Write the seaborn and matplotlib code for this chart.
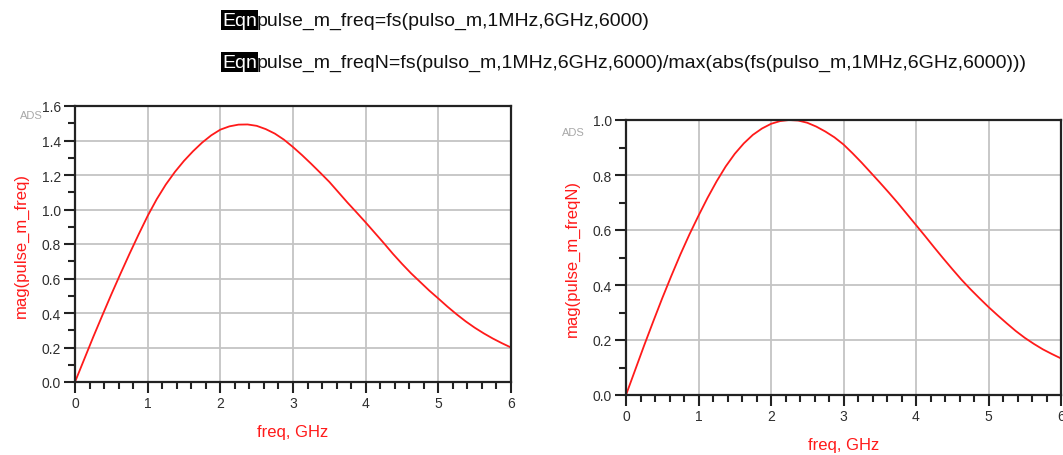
import numpy as np
import pandas as pd
import matplotlib
matplotlib.use("Agg")
import matplotlib.pyplot as plt
from matplotlib.ticker import MultipleLocator
import seaborn as sns

# ---- data ----
freq_ghz = [0.0, 0.125, 0.25, 0.375, 0.5, 0.625, 0.75, 0.875, 1.0, 1.125, 1.25, 1.375,
            1.5, 1.625, 1.75, 1.875, 2.0, 2.125, 2.25, 2.375, 2.5, 2.625, 2.75, 2.875,
            3.0, 3.125, 3.25, 3.375, 3.5, 3.625, 3.75, 3.875, 4.0, 4.125, 4.25, 4.375,
            4.5, 4.625, 4.75, 4.875, 5.0, 5.125, 5.25, 5.375, 5.5, 5.625, 5.75, 5.875, 6.0]
mag_freq = [0.0, 0.13, 0.26, 0.385, 0.508, 0.627, 0.743, 0.855, 0.963, 1.06, 1.145, 1.218,
            1.282, 1.338, 1.388, 1.43, 1.463, 1.482, 1.492, 1.493, 1.485, 1.466, 1.44, 1.405,
            1.362, 1.315, 1.265, 1.213, 1.16, 1.10, 1.04, 0.983, 0.925, 0.865, 0.805, 0.743,
            0.685, 0.63, 0.58, 0.53, 0.484, 0.437, 0.393, 0.352, 0.315, 0.282, 0.252, 0.225, 0.20]
mag_freqN = [0.0, 0.09, 0.18, 0.267, 0.352, 0.433, 0.511, 0.584, 0.652, 0.717, 0.777, 0.831,
             0.877, 0.915, 0.946, 0.969, 0.986, 0.996, 1.0, 0.998, 0.99, 0.976, 0.958, 0.937,
             0.911, 0.879, 0.845, 0.809, 0.773, 0.736, 0.698, 0.658, 0.618, 0.578, 0.537, 0.497,
             0.458, 0.42, 0.385, 0.352, 0.32, 0.29, 0.261, 0.233, 0.208, 0.186, 0.166, 0.149, 0.133]
xticks = [0, 1, 2, 3, 4, 5, 6]
yticks_left = [0.0, 0.2, 0.4, 0.6, 0.8, 1.0, 1.2, 1.4, 1.6]
yticks_right = [0.0, 0.2, 0.4, 0.6, 0.8, 1.0]
eq1 = "pulse_m_freq=fs(pulso_m,1MHz,6GHz,6000)"
eq2 = "pulse_m_freqN=fs(pulso_m,1MHz,6GHz,6000)/max(abs(fs(pulso_m,1MHz,6GHz,6000)))"

sns.set_style("white")
FONT = ['Liberation Sans Narrow', 'Liberation Sans', 'DejaVu Sans']
plt.rcParams['font.family'] = FONT

W, H = 1063, 456
fig = plt.figure(figsize=(W / 100, H / 100), dpi=100)


def px_axes(x0, y0, x1, y1):
    return fig.add_axes([x0 / W, 1 - y1 / H, (x1 - x0) / W, (y1 - y0) / H])


df1 = pd.DataFrame({"freq": freq_ghz, "mag": mag_freq})
df2 = pd.DataFrame({"freq": freq_ghz, "mag": mag_freqN})

ax1 = px_axes(75, 107, 511, 383)
ax2 = px_axes(626, 121, 1061, 396)

RED = "#ff1a1a"
TICKC = "#2e2e2e"


def style(ax, df, yticks, ylabel, ymax):
    sns.lineplot(data=df, x="freq", y="mag", ax=ax, color=RED, linewidth=1.3)
    ax.set_xlim(0, 6)
    ax.set_ylim(0, ymax)
    ax.set_xticks(xticks)
    ax.set_xticklabels([str(t) for t in xticks])
    ax.set_yticks(yticks)
    ax.set_yticklabels([f"{t:.1f}" for t in yticks])
    ax.xaxis.set_minor_locator(MultipleLocator(0.2))
    ax.yaxis.set_minor_locator(MultipleLocator(0.1))
    ax.grid(True, which="major", color="#c4c4c4", linewidth=1.3)
    ax.set_axisbelow(True)
    for s in ax.spines.values():
        s.set_color("#222222")
        s.set_linewidth(1.6)
        s.set_visible(True)
    ax.tick_params(axis="both", which="major", direction="out", length=8, width=1.5,
                   color="#222222", labelcolor=TICKC, labelsize=10, pad=2)
    ax.tick_params(axis="both", which="minor", direction="out", length=5, width=1.5,
                   color="#222222")
    ax.tick_params(axis="x", which="both", bottom=True)
    ax.tick_params(axis="y", which="both", left=True)
    ax.set_xlabel("freq, GHz", color=RED, fontsize=12, labelpad=10)
    ax.set_ylabel(ylabel, color=RED, fontsize=12, labelpad=9)


style(ax1, df1, yticks_left, "mag(pulse_m_freq)", 1.6)
style(ax2, df2, yticks_right, "mag(pulse_m_freqN)", 1.0)

fig.text(20 / W, 1 - 116 / H, "ADS", color="#a8a8a8", fontsize=8, va="center", ha="left")
fig.text(562 / W, 1 - 133 / H, "ADS", color="#a8a8a8", fontsize=8, va="center", ha="left")

# equations at top
for y, txt in [(21, eq1), (63, eq2)]:
    fig.text(222 / W, 1 - y / H, "Eqn", color="white", fontsize=14, va="center", ha="left",
             bbox=dict(facecolor="black", edgecolor="none", pad=1.0))
    fig.text(257 / W, 1 - y / H, txt, color="#111111", fontsize=14, va="center", ha="left")

fig.savefig("out.png", dpi=100)
